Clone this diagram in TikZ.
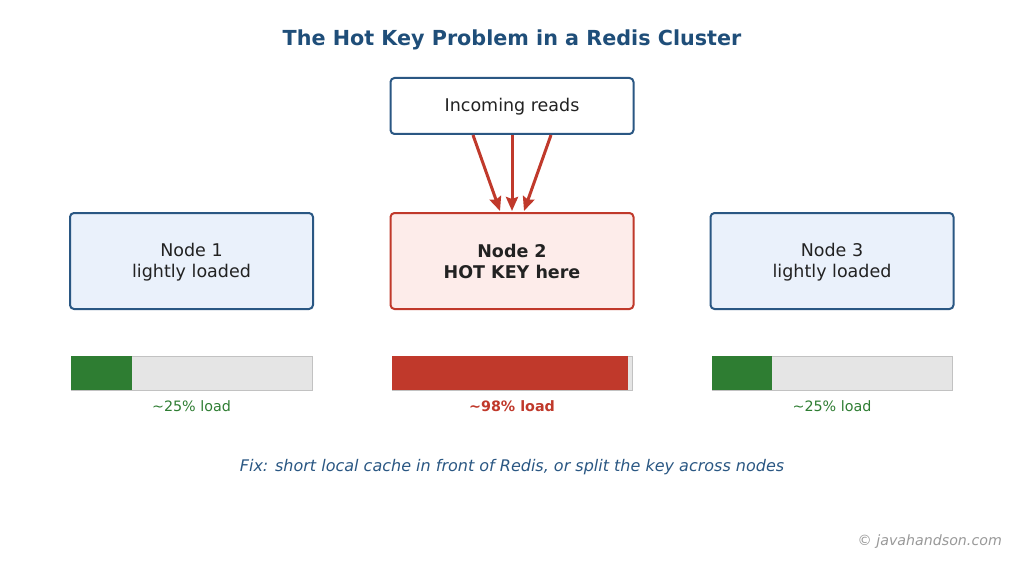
\documentclass[tikz,border=0pt]{standalone}
\usepackage{fontspec}
\setmainfont{DejaVu Sans}
\usetikzlibrary{arrows.meta}
\definecolor{titleblue}{HTML}{1F4E79}
\definecolor{boxblue}{HTML}{2A5783}
\definecolor{fillblue}{HTML}{EAF1FB}
\definecolor{hotred}{HTML}{C0392B}
\definecolor{fillred}{HTML}{FDECEA}
\definecolor{loadgreen}{HTML}{2E7D32}
\definecolor{bargray}{HTML}{E5E5E5}
\definecolor{barline}{HTML}{C2C2C2}
\definecolor{txt}{HTML}{222222}
\tikzset{
  box/.style={draw=boxblue, line width=2pt, rounded corners=4pt, minimum width=243pt, inner sep=0pt, align=center, text=txt, font=\fontsize{17.5}{21}\selectfont},
  nodebox/.style={box, fill=fillblue, minimum height=96pt},
  hotbox/.style={box, draw=hotred, fill=fillred, minimum height=96pt, font=\fontsize{17.5}{21}\selectfont\bfseries},
  arr/.style={draw=hotred, line width=3pt, -{Stealth[length=14pt,width=12pt,inset=2pt]}},
  bar/.style={fill=bargray, draw=barline, line width=1pt},
  loadlbl/.style={font=\fontsize{14.3}{17}\selectfont, inner sep=0pt},
}
\begin{document}
\begin{tikzpicture}[x=1pt,y=-1pt]
\useasboundingbox[fill=white] (0,0) rectangle (1024,564);
\node[text=titleblue, font=\fontsize{20.7}{24}\selectfont\bfseries] (title) at (512,40) {The Hot Key Problem in a Redis Cluster};
\node[box, fill=white, minimum height=56pt] (in) at (512,106) {\rule{0pt}{15pt}Incoming reads};
\node[nodebox] (n1) at (191.5,261) {\rule{0pt}{15pt}Node 1\\lightly loaded};
\node[hotbox] (n2) at (512,261) {\rule{0pt}{15pt}Node 2\\HOT KEY here};
\node[nodebox] (n3) at (832,261) {\rule{0pt}{15pt}Node 3\\lightly loaded};
\draw[arr] ([xshift=-39pt]in.south) -- ([xshift=-12pt,yshift=1pt]n2.north);
\draw[arr] (in.south) -- ([yshift=1pt]n2.north);
\draw[arr] ([xshift=39pt]in.south) -- ([xshift=12pt,yshift=1pt]n2.north);
% load bars
\draw[bar] (71,356) rectangle (312,390);
\fill[loadgreen] (71,356) rectangle (132,390);
\draw[bar] (392,356) rectangle (632,390);
\fill[hotred] (392,356) rectangle (627.5,390);
\draw[bar] (712,356) rectangle (952,390);
\fill[loadgreen] (712,356) rectangle (772,390);
\node[loadlbl, text=loadgreen] (l1) at (191.5,406) {\char`\~25\% load};
\node[loadlbl, text=hotred, font=\fontsize{14.3}{17}\selectfont\bfseries] (l2) at (512,406) {\char`\~98\% load};
\node[loadlbl, text=loadgreen] (l3) at (832,406) {\char`\~25\% load};
\node[text=boxblue, font=\fontsize{16}{19}\selectfont\itshape] (fix) at (512,467) {Fix: short local cache in front of Redis, or split the key across nodes};
\node[text=black!40, font=\fontsize{14.2}{17}\selectfont\itshape, anchor=east, inner sep=0pt] (wm) at (1002,542) {© javahandson.com};
\end{tikzpicture}
\end{document}
